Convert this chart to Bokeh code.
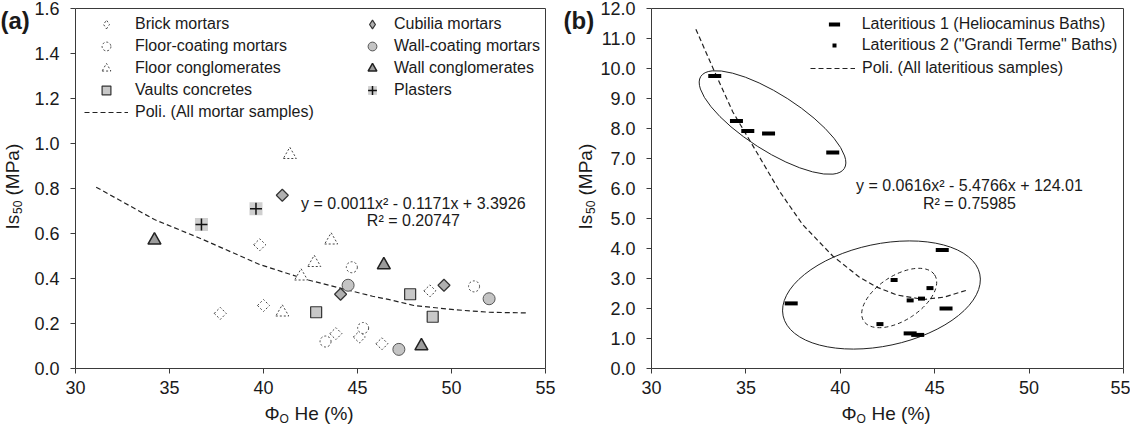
from math import pi
from bokeh.plotting import figure
from bokeh.layouts import row
from bokeh.models import (Range1d, FixedTicker, PrintfTickFormatter, Legend, LegendItem, Label,
                          LinearAxis)
from bokeh.embed import file_html
from bokeh.resources import INLINE

FONT = "Liberation Sans"
TXT = "#1a1a1a"
AX = "#3a3a3a"
NAN = float("nan")
H = 424

# ---------------- data: panel (a) ----------------
brick_x = [37.7, 39.8, 40.0, 43.85, 45.1, 46.3, 48.85]
brick_y = [0.245, 0.55, 0.28, 0.155, 0.14, 0.11, 0.345]
floorcoat_x = [43.3, 44.7, 45.3, 51.2]
floorcoat_y = [0.12, 0.45, 0.18, 0.365]
floorcong_x = [41.4, 43.6, 42.7, 42.0, 41.0]
floorcong_y = [0.95, 0.57, 0.47, 0.41, 0.25]
vault_x = [42.8, 47.8, 49.0]
vault_y = [0.25, 0.33, 0.23]
cubilia_x = [41.0, 44.1, 49.6]
cubilia_y = [0.77, 0.33, 0.37]
wallcoat_x = [44.5, 52.0, 47.2]
wallcoat_y = [0.37, 0.31, 0.085]
wallcong_x = [34.2, 46.4, 48.4]
wallcong_y = [0.57, 0.46, 0.10]
plaster_x = [36.7, 39.6]
plaster_y = [0.64, 0.71]
trend_a_x = [31.1, 34.2, 36.7, 39.8, 42.3, 45.8, 46.7, 48.0, 50.2, 52.0, 54.0]
trend_a_y = [0.806, 0.662, 0.576, 0.462, 0.395, 0.321, 0.306, 0.28, 0.261, 0.25, 0.247]
eq_a = ["y = 0.0011x\u00b2 - 0.1171x + 3.3926", "R\u00b2 = 0.20747"]

# ---------------- data: panel (b) ----------------
lat1_x = [33.35, 34.5, 35.1, 36.2, 39.6, 37.4, 45.4, 45.6, 43.7, 44.1]
lat1_y = [9.75, 8.25, 7.92, 7.83, 7.2, 2.17, 3.95, 2.0, 1.17, 1.12]
lat2_x = [42.85, 44.75, 43.7, 44.3, 42.1]
lat2_y = [2.95, 2.68, 2.27, 2.33, 1.48]
trend_b_x = [32.35, 33.2, 34.3, 35.3, 36.8, 38.0, 39.6, 41.0, 41.9, 43.0, 44.4, 45.5, 46.65]
trend_b_y = [11.31, 10.09, 8.56, 7.50, 5.89, 4.80, 3.75, 3.05, 2.72, 2.45, 2.30, 2.38, 2.60]
eq_b = ["y = 0.0616x\u00b2 - 5.4766x + 124.01", "R\u00b2 = 0.75985"]

x_ticks = [30, 35, 40, 45, 50, 55]
ya_ticks = [0.0, 0.2, 0.4, 0.6, 0.8, 1.0, 1.2, 1.4, 1.6]
yb_ticks = [float(v) for v in range(0, 13)]


def base_fig(width, left, right, ymax, yticks):
    # the plotting box spans [left, width-right] x [8, 368] px of this canvas;
    # the frame covers the whole canvas so that texts around the box are not clipped
    bw = width - left - right
    kx = 25.0 / bw
    ky = ymax / 360.0
    p = figure(width=width, height=H,
               x_range=Range1d(30 - left * kx, 55 + right * kx),
               y_range=Range1d(-56 * ky, ymax + 8 * ky),
               output_backend="svg", toolbar_location=None,
               x_axis_location=None, y_axis_location=None, min_border=0)
    p.grid.visible = False
    p.outline_line_color = None
    p.background_fill_color = "white"
    p.border_fill_color = "white"

    def style(ax):
        ax.axis_line_color = AX
        ax.axis_line_width = 1
        ax.major_tick_line_color = AX
        ax.major_tick_out = 5
        ax.major_tick_in = 0
        ax.minor_tick_line_color = None
        ax.major_label_text_font = FONT
        ax.major_label_text_font_size = "18px"
        ax.major_label_text_color = TXT

    xa = LinearAxis(fixed_location=0, bounds=(30, 55), ticker=FixedTicker(ticks=x_ticks))
    style(xa)
    xa.major_label_standoff = 7
    p.add_layout(xa, "below")
    ya = LinearAxis(fixed_location=30, bounds=(0, ymax), ticker=FixedTicker(ticks=yticks),
                    formatter=PrintfTickFormatter(format="%.1f"))
    style(ya)
    ya.major_label_standoff = 11
    p.add_layout(ya, "left")
    # box: top and right edges
    ta = LinearAxis(fixed_location=ymax, bounds=(30, 55), ticker=FixedTicker(ticks=[]))
    style(ta)
    p.add_layout(ta, "above")
    ra = LinearAxis(fixed_location=55, bounds=(0, ymax), ticker=FixedTicker(ticks=[]))
    style(ra)
    p.add_layout(ra, "right")
    return p


def lab(p, text, x, y, size="19px", angle=0.0, align="left", baseline="middle", bold=False, units="screen"):
    p.add_layout(Label(x=x, y=y, x_units=units, y_units=units, text=text, angle=angle,
                       text_font=FONT, text_font_size=size, text_color=TXT,
                       text_align=align, text_baseline=baseline,
                       text_font_style="bold" if bold else "normal"))


def titles(p, box_left, box_w, xc_y):
    # positions in px from the canvas bottom-left
    c = box_left + box_w / 2
    lab(p, "\u03a6", c - 46, H - 413)
    lab(p, "O", c - 31, H - 418, size="12px")
    lab(p, "He (%)", c - 16, H - 413)
    yb = H - (8 + 180 + 41)
    lab(p, "Is", xc_y, yb, angle=pi / 2)
    lab(p, "50", xc_y + 5, yb + 15.5, size="12px", angle=pi / 2)
    lab(p, "(MPa)", xc_y, yb + 34, angle=pi / 2)


def add_legend(p, items, vx, vy, gw, gh, standoff, spacing=0):
    lg = Legend(items=items, location=(vx, vy), glyph_width=gw, glyph_height=gh,
                label_height=gh, label_standoff=standoff, spacing=spacing, padding=0, margin=0,
                border_line_color=None, background_fill_alpha=0,
                label_text_font=FONT, label_text_font_size="16px", label_text_color=TXT)
    p.add_layout(lg)


# ================= panel (a) =================
pa = base_fig(560, 75, 15, 1.6, ya_ticks)
dot = dict(line_color="#444444", line_dash="2 2", line_width=1, fill_color="white")
solid = dict(line_color="#333333", line_width=1.2)

tr_a = pa.line(trend_a_x, trend_a_y, line_color="#222222", line_dash="5 3", line_width=1.2)
r_brick = pa.scatter(brick_x, brick_y, marker="square", angle=pi / 4, size=8.5, **dot)
r_fcoat = pa.scatter(floorcoat_x, floorcoat_y, marker="circle", size=11, **dot)
r_fcong = pa.scatter(floorcong_x, floorcong_y, marker="triangle", size=13, **dot)
r_vault = pa.scatter(vault_x, vault_y, marker="square", size=11, fill_color="#c8c8c8", **solid)
r_cub = pa.scatter(cubilia_x, cubilia_y, marker="square", angle=pi / 4, size=8.5, fill_color="#b0b0b0", **solid)
r_wcoat = pa.scatter(wallcoat_x, wallcoat_y, marker="circle", size=12, fill_color="#c4c4c4",
                     line_color="#555555", line_width=1)
r_wcong = pa.scatter(wallcong_x, wallcong_y, marker="triangle", size=13, fill_color="#9c9c9c",
                     line_color="#222222", line_width=1.5)
r_plbg = pa.scatter(plaster_x, plaster_y, marker="square", size=13, fill_color="#cfcfcf", line_color=None)
r_plx = pa.scatter(plaster_x, plaster_y, marker="cross", size=12, line_color="#111111", line_width=1.5)

# legend-only diamond glyphs (a single NaN point, draws nothing in the plot)
lg_brick = pa.scatter(x=[NAN], y=[NAN], marker="diamond", size=10, **dot)
lg_cub = pa.scatter(x=[NAN], y=[NAN], marker="diamond", size=10, fill_color="#b0b0b0", **solid)

add_legend(pa, [LegendItem(label="Brick mortars", renderers=[lg_brick]),
                LegendItem(label="Floor-coating mortars", renderers=[r_fcoat]),
                LegendItem(label="Floor conglomerates", renderers=[r_fcong]),
                LegendItem(label="Vaults concretes", renderers=[r_vault]),
                LegendItem(label="Poli. (All mortar samples)", renderers=[tr_a])],
           84, 301, 44, 22, 7)
add_legend(pa, [LegendItem(label="Cubilia mortars", renderers=[lg_cub]),
                LegendItem(label="Wall-coating mortars", renderers=[r_wcoat]),
                LegendItem(label="Wall conglomerates", renderers=[r_wcong]),
                LegendItem(label="Plasters", renderers=[r_plbg, r_plx])],
           357, 323, 30, 22, 7)

lab(pa, eq_a[0], 47.97, 0.733, size="16px", align="center", units="data")
lab(pa, eq_a[1], 47.97, 0.659, size="16px", align="center", units="data")
lab(pa, "(a)", 0, H - 6, size="24px", baseline="top", bold=True)
titles(pa, 75, 470, 12)

# ================= panel (b) =================
pb = base_fig(570, 91, 7, 12, yb_ticks)
tr_b = pb.line(trend_b_x, trend_b_y, line_color="#222222", line_dash="5 3", line_width=1.2)
pb.ellipse(x=36.41, y=8.20, width=9.03, height=1.88, angle=-32.7, angle_units="deg",
           fill_color=None, line_color="#222222", line_width=1)
pb.ellipse(x=42.18, y=2.45, width=10.65, height=3.4, angle=12, angle_units="deg",
           fill_color=None, line_color="#222222", line_width=1)
pb.ellipse(x=43.12, y=2.35, width=4.48, height=1.49, angle=33, angle_units="deg",
           fill_color=None, line_color="#222222", line_width=1, line_dash="4 3")
r_l1 = pb.scatter(lat1_x, lat1_y, marker="dash", size=13, line_width=4, line_color="black")
r_l2 = pb.scatter(lat2_x, lat2_y, marker="dash", size=7, line_width=4, line_color="black")

add_legend(pb, [LegendItem(label="Lateritious 1 (Heliocaminus Baths)", renderers=[r_l1])],
           259.7, 386.3, 28, 28, 14)
add_legend(pb, [LegendItem(label='Lateritious 2 ("Grandi Terme" Baths)', renderers=[r_l2])],
           268.7, 367.7, 10, 22, 23)
add_legend(pb, [LegendItem(label="Poli. (All lateritious samples)", renderers=[tr_b])],
           250, 345, 45, 22, 7)

lab(pb, eq_b[0], 46.84, 6.11, size="16px", align="center", units="data")
lab(pb, eq_b[1], 46.84, 5.50, size="16px", align="center", units="data")
lab(pb, "(b)", 3, H - 6, size="24px", baseline="top", bold=True)
titles(pb, 91, 472, 25)

layout = row(pa, pb)
open("out.html", "w").write(file_html(layout, INLINE))
